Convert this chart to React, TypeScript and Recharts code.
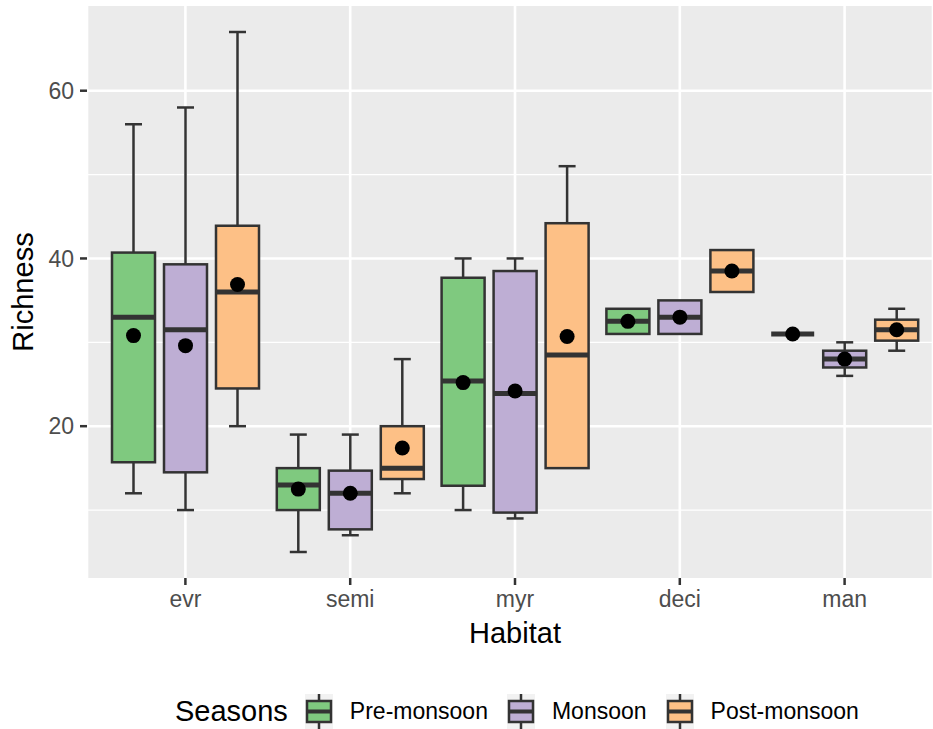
import { ComposedChart, Bar, XAxis, YAxis, CartesianGrid } from "recharts";

// habitats on the x axis
const habitats = ["evr", "semi", "myr", "deci", "man"];
const seasons = ["Pre-monsoon", "Monsoon", "Post-monsoon"];
const seasonColors = ["#7FC97F", "#BEAED4", "#FDC086"];

// box statistics, one value per habitat
const preMin = [12, 5, 10, 31, 31];
const preQ1 = [15.7, 10, 12.9, 31, 31];
const preMedian = [33, 13, 25.4, 32.5, 31];
const preQ3 = [40.7, 15, 37.7, 34, 31];
const preMax = [56, 19, 40, 34, 31];
const preMean = [30.8, 12.5, 25.2, 32.5, 31];

const monMin = [10, 7, 9, 31, 26];
const monQ1 = [14.5, 7.7, 9.7, 31, 27];
const monMedian = [31.5, 12, 23.9, 33, 28];
const monQ3 = [39.3, 14.7, 38.5, 35, 29];
const monMax = [58, 19, 40, 35, 30];
const monMean = [29.6, 12, 24.2, 33, 28];

const postMin = [20, 12, 15, 36, 29];
const postQ1 = [24.5, 13.7, 15, 36, 30.2];
const postMedian = [36, 15, 28.5, 38.5, 31.5];
const postQ3 = [43.9, 20, 44.2, 41, 32.7];
const postMax = [67, 28, 51, 41, 34];
const postMean = [36.9, 17.4, 30.7, 38.5, 31.5];

const yTicks = [20, 40, 60];
const yMinorTicks = [10, 30, 50];
const Y_MIN = 1.9;
const Y_MAX = 70.1;

const seasonKeys = ["pre", "mon", "post"];

const data = habitats.map((h, i) => ({
  habitat: h,
  pre: { min: preMin[i], q1: preQ1[i], median: preMedian[i], q3: preQ3[i], max: preMax[i], mean: preMean[i] },
  mon: { min: monMin[i], q1: monQ1[i], median: monMedian[i], q3: monQ3[i], max: monMax[i], mean: monMean[i] },
  post: { min: postMin[i], q1: postQ1[i], median: postMedian[i], q3: postQ3[i], max: postMax[i], mean: postMean[i] },
}));

const FONT = "'Liberation Sans', Arial, sans-serif";
const LINE = "#333333";

// the bar spans [Y_MIN, max]; its pixel height gives the y scale for the other stats
function BoxShape(props: any) {
  const { x, y, width, height, payload, season, color } = props;
  const s = payload[season];
  const top = Math.min(y, y + height);
  const bottom = Math.max(y, y + height);
  const ppu = (bottom - top) / (s.max - Y_MIN);
  const py = (v: number) => bottom - (v - Y_MIN) * ppu;
  const cx = x + width / 2;
  const cap = 8.5;
  return (
    <g>
      {s.max > s.q3 && (
        <>
          <line x1={cx} x2={cx} y1={py(s.max)} y2={py(s.q3)} stroke={LINE} strokeWidth={2.5} />
          <line x1={cx - cap} x2={cx + cap} y1={py(s.max)} y2={py(s.max)} stroke={LINE} strokeWidth={2.5} />
        </>
      )}
      {s.min < s.q1 && (
        <>
          <line x1={cx} x2={cx} y1={py(s.q1)} y2={py(s.min)} stroke={LINE} strokeWidth={2.5} />
          <line x1={cx - cap} x2={cx + cap} y1={py(s.min)} y2={py(s.min)} stroke={LINE} strokeWidth={2.5} />
        </>
      )}
      <rect
        x={x}
        y={py(s.q3)}
        width={width}
        height={py(s.q1) - py(s.q3)}
        fill={color}
        stroke={LINE}
        strokeWidth={2.5}
      />
      <line x1={x} x2={x + width} y1={py(s.median)} y2={py(s.median)} stroke={LINE} strokeWidth={5} />
      <circle cx={cx} cy={py(s.mean)} r={7.5} fill="#000" />
    </g>
  );
}

function LegendKey({ color }: { color: string }) {
  return (
    <svg width={28} height={35} style={{ display: "block" }}>
      <rect x={0} y={0} width={28} height={35} fill="#F2F2F2" />
      <line x1={14} x2={14} y1={0} y2={7} stroke={LINE} strokeWidth={2.5} />
      <line x1={14} x2={14} y1={28} y2={35} stroke={LINE} strokeWidth={2.5} />
      <rect x={2} y={7} width={24} height={21} fill={color} stroke={LINE} strokeWidth={2.5} />
      <line x1={2} x2={26} y1={17.5} y2={17.5} stroke={LINE} strokeWidth={4} />
    </svg>
  );
}

export default function App() {
  return (
    <div style={{ position: "absolute", left: 0, top: 0, width: 933, height: 729, background: "#fff", fontFamily: FONT }}>
      <ComposedChart
        width={933}
        height={729}
        data={data}
        margin={{ top: 6, right: 0, bottom: 0, left: 0 }}
        barGap={9}
        barSize={43}
      >
        <CartesianGrid
          fill="#EBEBEB"
          stroke="#FFFFFF"
          strokeWidth={1.3}
          vertical={false}
          horizontalValues={yMinorTicks}
        />
        <CartesianGrid stroke="#FFFFFF" strokeWidth={2.6} horizontalValues={yTicks} />
        <XAxis
          dataKey="habitat"
          height={151}
          padding={{ left: 16, right: 6 }}
          axisLine={false}
          tickSize={7}
          tickMargin={6}
          tickLine={{ stroke: LINE, strokeWidth: 2.5 }}
          tick={{ fill: "#4D4D4D", fontSize: 23, fontFamily: FONT }}
          label={{
            content: (p: any) => {
              const vb = p.viewBox;
              return (
                <text x={vb.x + vb.width / 2 + 5} y={vb.y + 65} textAnchor="middle" fontSize={29} fill="#000" fontFamily={FONT}>
                  Habitat
                </text>
              );
            },
          }}
        />
        <YAxis
          type="number"
          width={87}
          domain={[Y_MIN, Y_MAX]}
          allowDataOverflow
          ticks={yTicks}
          axisLine={false}
          tickSize={7}
          tickMargin={6}
          tickLine={{ stroke: LINE, strokeWidth: 2.5 }}
          tick={{ fill: "#4D4D4D", fontSize: 23, fontFamily: FONT }}
          label={{
            content: (p: any) => {
              const vb = p.viewBox;
              const cx = 33;
              const cy = vb.y + vb.height / 2;
              return (
                <text x={cx} y={cy} transform={`rotate(-90 ${cx} ${cy})`} textAnchor="middle" fontSize={29} fill="#000" fontFamily={FONT}>
                  Richness
                </text>
              );
            },
          }}
        />
        {seasonKeys.map((k, i) => (
          <Bar
            key={k}
            name={seasons[i]}
            dataKey={(d: any) => [Y_MIN, d[k].max]}
            isAnimationActive={false}
            shape={(props: any) => <BoxShape {...props} season={k} color={seasonColors[i]} />}
          />
        ))}
      </ComposedChart>
      <div
        style={{
          position: "absolute",
          left: 175,
          top: 694,
          height: 35,
          display: "flex",
          alignItems: "center",
          whiteSpace: "nowrap",
        }}
      >
        <span style={{ fontSize: 29, color: "#000", marginRight: 17 }}>Seasons</span>
        {seasons.map((s, i) => (
          <div key={s} style={{ display: "flex", alignItems: "center", marginRight: i < 2 ? 19 : 0 }}>
            <LegendKey color={seasonColors[i]} />
            <span style={{ fontSize: 23, color: "#000", marginLeft: 17 }}>{s}</span>
          </div>
        ))}
      </div>
    </div>
  );
}
